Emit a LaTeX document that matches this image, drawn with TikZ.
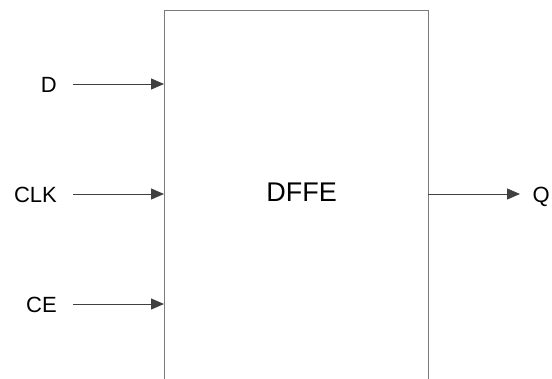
\documentclass[tikz,border=0pt]{standalone}
\usepackage{fontspec}
\setmainfont{Liberation Sans}
\usetikzlibrary{arrows.meta}
\definecolor{wire}{HTML}{404040}
\definecolor{boxline}{HTML}{7A7A7A}
\begin{document}
\begin{tikzpicture}[x=1pt,y=-1pt,
  lbl/.style={inner sep=0pt,font=\fontsize{22}{26}\selectfont},
  arr/.style={draw=wire,line width=1pt,-{Triangle[length=13pt,width=11pt,fill=wire]}},
  blk/.style={draw=boxline,line width=1.2pt,fill=none}]
\useasboundingbox (0,0) rectangle (552,378);
\clip (0,0) rectangle (552,378);
% block (bottom edge lies below the picture)
\node[blk,inner sep=0pt,minimum width=264pt,minimum height=400pt,anchor=north west] (dffe) at (164,10) {};
\node[lbl,font=\fontsize{27}{32}\selectfont,anchor=base] (name) at (301.7,201) {DFFE};
% ports
\coordinate (pD) at (164,84);
\coordinate (pCLK) at (164,194);
\coordinate (pCE) at (164,304);
\coordinate (pQ) at (428,194);
\coordinate (qEnd) at (520,194);
% labels
\node[lbl,anchor=base east] (lD) at (57,92) {D};
\node[lbl,anchor=base east] (lCLK) at (57,202) {CLK};
\node[lbl,anchor=base east] (lCE) at (57,312) {CE};
\node[lbl,anchor=base west] (lQ) at (532.5,202) {Q};
% connectors
\draw[arr] ([xshift=16pt]lD.east |- pD) -- (pD);
\draw[arr] ([xshift=16pt]lCLK.east |- pCLK) -- (pCLK);
\draw[arr] ([xshift=16pt]lCE.east |- pCE) -- (pCE);
\draw[arr] (pQ) -- (qEnd);
\end{tikzpicture}
\end{document}
